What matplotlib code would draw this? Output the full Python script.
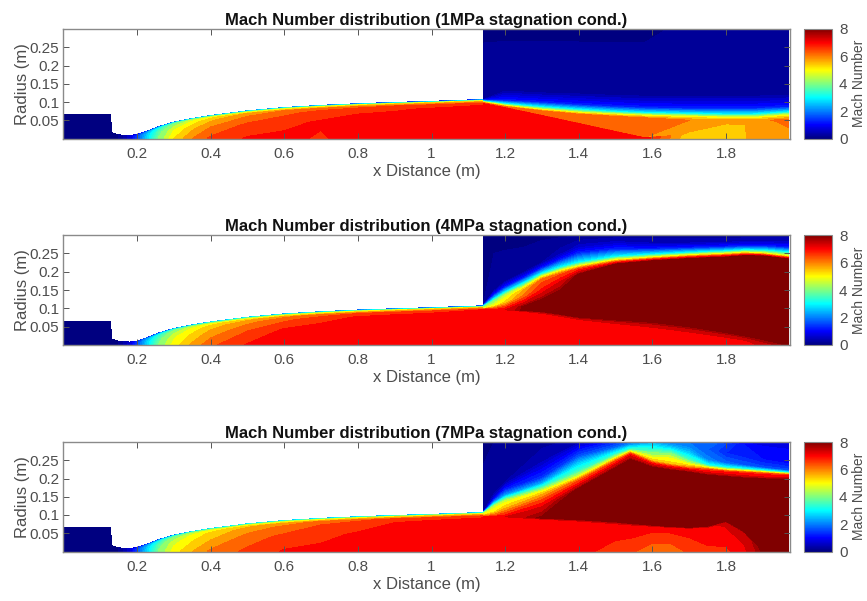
import numpy as np
import matplotlib
matplotlib.use('Agg')
import matplotlib.pyplot as plt
from matplotlib.cm import ScalarMappable
from matplotlib.colors import LinearSegmentedColormap, Normalize

plt.rcParams['font.family'] = ['Liberation Sans', 'DejaVu Sans']

titles = ['Mach Number distribution (1MPa stagnation cond.)',
          'Mach Number distribution (4MPa stagnation cond.)',
          'Mach Number distribution (7MPa stagnation cond.)']
x_ticks = [0.2, 0.4, 0.6, 0.8, 1.0, 1.2, 1.4, 1.6, 1.8]
x_tick_labels = ['0.2', '0.4', '0.6', '0.8', '1', '1.2', '1.4', '1.6', '1.8']
r_ticks = [0.05, 0.1, 0.15, 0.2, 0.25]
r_tick_labels = ['0.05', '0.1', '0.15', '0.2', '0.25']
cbar_ticks = [0, 2, 4, 6, 8]

# nozzle wall
noz_x = [0.0, 0.128, 0.131, 0.15, 0.18, 0.2, 0.23, 0.26, 0.3, 0.35, 0.4, 0.5, 0.6, 0.7, 0.8, 0.9, 1.0, 1.14]
noz_wall = [0.065, 0.065, 0.016, 0.010, 0.008, 0.011, 0.021, 0.033, 0.045, 0.055, 0.063, 0.076, 0.085, 0.091, 0.0955, 0.099, 0.102, 0.107]
noz_eta = [0.0, 0.5, 0.8, 0.9, 0.96, 1.0]

# Mach number in the nozzle, one row per eta
noz_m1 = [
    [0, 0, 0, 0.1, 0.6, 1.5, 2.8, 4.0, 5.2, 6.0, 6.5, 6.85, 6.9, 6.75, 7.0, 7.05, 7.05, 7.05],
    [0, 0, 0, 0.1, 0.6, 1.5, 2.7, 3.7, 4.8, 5.5, 6.0, 6.5, 6.7, 6.85, 7.0, 7.05, 7.1, 7.1],
    [0, 0, 0, 0.1, 0.6, 1.3, 2.3, 3.3, 4.2, 5.0, 5.5, 6.0, 6.3, 6.55, 6.7, 6.75, 6.85, 7.0],
    [0, 0, 0, 0.1, 0.6, 1.2, 2.0, 2.8, 3.8, 4.6, 5.1, 5.7, 6.0, 6.2, 6.3, 6.4, 6.5, 6.6],
    [0, 0, 0, 0.1, 0.5, 1.0, 1.6, 2.2, 3.0, 3.6, 4.0, 4.3, 4.6, 4.8, 5.0, 5.1, 5.2, 5.2],
    [0, 0, 0, 0.1, 0.4, 0.8, 1.0, 1.2, 1.5, 1.8, 2.0, 2.0, 2.0, 1.8, 1.5, 1.3, 1.2, 1.2],
]
noz_m2 = [
    [0, 0, 0, 0.1, 0.6, 1.5, 2.8, 4.0, 5.0, 5.7, 6.3, 6.85, 6.95, 7.0, 7.05, 7.05, 7.05, 7.05],
    [0, 0, 0, 0.1, 0.6, 1.5, 2.7, 3.7, 4.7, 5.3, 5.8, 6.4, 6.85, 7.0, 7.05, 7.1, 7.1, 7.1],
    [0, 0, 0, 0.1, 0.6, 1.3, 2.3, 3.3, 4.2, 4.9, 5.4, 5.9, 6.3, 6.6, 6.85, 6.95, 7.0, 7.1],
    [0, 0, 0, 0.1, 0.6, 1.2, 2.0, 2.8, 3.7, 4.5, 5.0, 5.5, 5.9, 6.2, 6.4, 6.5, 6.6, 6.8],
    [0, 0, 0, 0.1, 0.5, 1.0, 1.6, 2.2, 3.0, 3.5, 3.8, 4.2, 4.5, 4.7, 4.9, 5.0, 5.2, 5.3],
    [0, 0, 0, 0.1, 0.4, 0.8, 1.0, 1.2, 1.5, 2.0, 2.4, 2.4, 2.2, 2.0, 1.8, 1.6, 1.5, 1.5],
]
noz_m3 = [
    [0, 0, 0, 0.1, 0.6, 1.5, 2.8, 4.0, 5.0, 5.6, 6.1, 6.5, 6.85, 6.9, 6.95, 7.0, 7.0, 7.0],
    [0, 0, 0, 0.1, 0.6, 1.5, 2.7, 3.7, 4.7, 5.2, 5.6, 6.2, 6.5, 6.7, 6.85, 6.95, 7.0, 7.0],
    [0, 0, 0, 0.1, 0.6, 1.3, 2.3, 3.3, 4.2, 4.9, 5.3, 5.8, 6.1, 6.4, 6.6, 6.8, 6.9, 6.95],
    [0, 0, 0, 0.1, 0.6, 1.2, 2.0, 2.8, 3.7, 4.5, 5.0, 5.5, 5.8, 6.1, 6.3, 6.5, 6.6, 6.7],
    [0, 0, 0, 0.1, 0.5, 1.0, 1.6, 2.2, 3.0, 3.6, 4.0, 4.4, 4.6, 4.8, 5.0, 5.1, 5.2, 5.2],
    [0, 0, 0, 0.1, 0.4, 0.8, 1.0, 1.2, 1.6, 2.2, 2.6, 2.6, 2.6, 2.4, 2.4, 2.4, 2.4, 2.4],
]

# plume after the nozzle lip, rows go from the axis to the top of the plot
p1_x = [1.14, 1.2, 1.3, 1.4, 1.5, 1.58, 1.7, 1.8, 1.87, 1.97]
p1_r = [
    [0, 0, 0, 0, 0, 0, 0, 0, 0, 0],
    [0.093, 0.083, 0.062, 0.040, 0.018, 0.001, 0.012, 0.032, 0.040, 0.030],
    [0.095, 0.085, 0.064, 0.042, 0.020, 0.003, 0.020, 0.040, 0.048, 0.046],
    [0.097, 0.087, 0.075, 0.066, 0.060, 0.056, 0.050, 0.048, 0.048, 0.052],
    [0.100, 0.090, 0.079, 0.071, 0.066, 0.063, 0.060, 0.058, 0.057, 0.064],
    [0.103, 0.095, 0.086, 0.079, 0.073, 0.070, 0.068, 0.066, 0.066, 0.072],
    [0.106, 0.104, 0.099, 0.093, 0.088, 0.085, 0.083, 0.083, 0.083, 0.087],
    [0.107, 0.130, 0.125, 0.122, 0.118, 0.116, 0.116, 0.116, 0.116, 0.118],
    [0.300, 0.300, 0.300, 0.300, 0.300, 0.300, 0.300, 0.300, 0.300, 0.300],
]
p1_m = [
    [7.05, 7.05, 7.05, 7.05, 7.05, 7.0, 5.2, 5.2, 5.7, 5.9],
    [7.05, 7.05, 7.05, 7.05, 7.05, 7.0, 5.3, 5.3, 5.7, 6.0],
    [6.95, 6.4, 6.2, 6.2, 6.2, 6.0, 5.7, 5.6, 5.8, 6.1],
    [6.5, 6.1, 6.1, 6.1, 6.1, 6.1, 6.0, 5.9, 5.9, 6.1],
    [4.8, 4.9, 4.9, 4.9, 4.9, 4.9, 4.9, 4.9, 4.9, 4.9],
    [2.6, 3.0, 3.0, 3.0, 3.0, 3.0, 3.0, 3.0, 3.0, 3.0],
    [1.2, 1.2, 1.2, 1.2, 1.2, 1.2, 1.2, 1.2, 1.2, 1.2],
    [0.3, 0.3, 0.3, 0.3, 0.3, 0.3, 0.3, 0.3, 0.3, 0.3],
    [0.05, 0.05, 0.05, 0.05, 0.05, 0.05, 0.15, 0.15, 0.15, 0.15],
]

p2_x = [1.14, 1.17, 1.2, 1.25, 1.3, 1.35, 1.4, 1.5, 1.6, 1.7, 1.8, 1.85, 1.9, 1.97]
p2_r = [
    [0, 0, 0, 0, 0, 0, 0, 0, 0, 0, 0, 0, 0, 0],
    [0.094, 0.094, 0.094, 0.091, 0.085, 0.077, 0.068, 0.056, 0.045, 0.032, 0.018, 0.010, 0.002, 0.001],
    [0.096, 0.096, 0.096, 0.095, 0.092, 0.085, 0.077, 0.070, 0.064, 0.052, 0.036, 0.027, 0.018, 0.005],
    [0.098, 0.098, 0.099, 0.104, 0.122, 0.145, 0.172, 0.200, 0.212, 0.222, 0.228, 0.230, 0.228, 0.220],
    [0.100, 0.106, 0.116, 0.131, 0.150, 0.168, 0.192, 0.220, 0.229, 0.235, 0.239, 0.243, 0.242, 0.234],
    [0.103, 0.114, 0.128, 0.150, 0.178, 0.194, 0.208, 0.226, 0.234, 0.240, 0.244, 0.247, 0.246, 0.238],
    [0.105, 0.120, 0.136, 0.158, 0.186, 0.202, 0.215, 0.232, 0.239, 0.245, 0.249, 0.252, 0.250, 0.242],
    [0.107, 0.128, 0.145, 0.168, 0.195, 0.212, 0.225, 0.241, 0.247, 0.252, 0.256, 0.259, 0.258, 0.253],
    [0.108, 0.138, 0.158, 0.183, 0.210, 0.232, 0.252, 0.262, 0.262, 0.265, 0.268, 0.270, 0.270, 0.266],
    [0.109, 0.150, 0.175, 0.200, 0.225, 0.250, 0.268, 0.282, 0.280, 0.280, 0.282, 0.284, 0.284, 0.282],
    [0.300, 0.300, 0.300, 0.300, 0.300, 0.300, 0.300, 0.300, 0.300, 0.300, 0.300, 0.300, 0.300, 0.300],
]
p2_m = [
    [7.05, 7.05, 7.05, 7.05, 7.05, 7.05, 7.05, 7.05, 7.05, 7.05, 7.05, 7.05, 7.3, 7.9],
    [7.05, 7.05, 7.05, 7.05, 7.05, 7.05, 7.05, 7.05, 7.05, 7.05, 7.05, 7.05, 7.4, 7.9],
    [7.1, 7.1, 7.2, 7.9, 7.9, 7.9, 7.9, 7.9, 7.9, 7.9, 7.9, 7.9, 7.9, 7.9],
    [6.4, 6.6, 7.0, 7.9, 7.9, 7.9, 7.9, 7.9, 7.9, 7.9, 7.9, 7.9, 7.9, 7.9],
    [4.8, 5.0, 5.3, 6.2, 6.9, 7.4, 7.9, 7.9, 7.9, 7.9, 7.9, 7.9, 7.9, 7.9],
    [4.0, 4.4, 4.9, 5.6, 6.2, 6.3, 6.5, 6.6, 6.6, 6.6, 6.6, 6.6, 6.6, 6.6],
    [3.2, 4.0, 4.4, 4.8, 5.0, 5.0, 5.0, 5.0, 5.0, 5.0, 5.0, 5.0, 5.0, 5.0],
    [1.8, 2.5, 2.8, 3.0, 3.0, 3.0, 3.0, 3.0, 3.0, 3.0, 3.0, 3.0, 3.0, 3.0],
    [0.8, 1.1, 1.2, 1.2, 1.2, 1.2, 1.2, 1.2, 1.2, 1.2, 1.2, 1.2, 1.2, 1.2],
    [0.1, 0.2, 0.2, 0.2, 0.3, 0.4, 0.6, 0.5, 0.4, 0.4, 0.4, 0.4, 0.4, 0.5],
    [0.05, 0.05, 0.05, 0.05, 0.05, 0.05, 0.05, 0.15, 0.2, 0.2, 0.2, 0.2, 0.2, 0.2],
]

p3_x = [1.14, 1.17, 1.2, 1.3, 1.4, 1.5, 1.54, 1.6, 1.65, 1.7, 1.75, 1.8, 1.85, 1.9, 1.97]
p3_r = [
    [0, 0, 0, 0, 0, 0, 0, 0, 0, 0, 0, 0, 0, 0, 0],
    [0.092, 0.092, 0.092, 0.088, 0.083, 0.075, 0.072, 0.068, 0.065, 0.063, 0.066, 0.080, 0.050, 0.002, 0.001],
    [0.095, 0.095, 0.095, 0.092, 0.088, 0.082, 0.078, 0.073, 0.069, 0.067, 0.070, 0.084, 0.056, 0.010, 0.004],
    [0.097, 0.098, 0.100, 0.118, 0.172, 0.228, 0.250, 0.230, 0.222, 0.216, 0.208, 0.204, 0.200, 0.198, 0.196],
    [0.100, 0.108, 0.118, 0.142, 0.186, 0.240, 0.262, 0.240, 0.232, 0.225, 0.218, 0.214, 0.210, 0.206, 0.204],
    [0.104, 0.118, 0.130, 0.156, 0.196, 0.248, 0.268, 0.248, 0.240, 0.230, 0.224, 0.219, 0.216, 0.213, 0.209],
    [0.106, 0.124, 0.138, 0.164, 0.204, 0.256, 0.274, 0.258, 0.256, 0.238, 0.230, 0.224, 0.221, 0.218, 0.213],
    [0.107, 0.130, 0.146, 0.175, 0.218, 0.266, 0.280, 0.272, 0.270, 0.250, 0.236, 0.230, 0.226, 0.222, 0.216],
    [0.108, 0.136, 0.154, 0.186, 0.242, 0.276, 0.287, 0.286, 0.282, 0.270, 0.252, 0.242, 0.236, 0.230, 0.222],
    [0.109, 0.146, 0.170, 0.202, 0.262, 0.285, 0.292, 0.294, 0.292, 0.288, 0.280, 0.270, 0.262, 0.252, 0.240],
    [0.110, 0.160, 0.190, 0.245, 0.285, 0.296, 0.298, 0.299, 0.298, 0.298, 0.296, 0.294, 0.292, 0.288, 0.280],
    [0.300, 0.300, 0.300, 0.300, 0.300, 0.300, 0.300, 0.300, 0.300, 0.300, 0.300, 0.300, 0.300, 0.300, 0.300],
]
p3_m = [
    [7.0, 7.0, 7.0, 7.0, 6.95, 6.6, 6.5, 6.1, 6.1, 6.5, 6.7, 6.7, 7.1, 7.9, 7.9],
    [7.05, 7.05, 7.05, 7.1, 7.15, 7.1, 7.1, 7.0, 7.0, 7.0, 7.1, 7.3, 7.4, 7.9, 7.9],
    [7.0, 7.1, 7.2, 7.9, 7.9, 7.9, 7.9, 7.9, 7.9, 7.9, 7.9, 7.9, 7.9, 7.9, 7.9],
    [6.2, 6.4, 6.8, 7.4, 7.9, 7.9, 7.9, 7.9, 7.9, 7.9, 7.9, 7.9, 7.9, 7.9, 7.9],
    [5.0, 5.2, 5.6, 6.4, 6.9, 7.1, 7.2, 7.0, 6.9, 7.0, 7.0, 7.0, 7.0, 7.0, 7.0],
    [4.4, 4.8, 5.0, 5.6, 6.2, 6.4, 6.6, 5.6, 5.4, 6.0, 6.6, 6.7, 6.7, 6.7, 6.7],
    [3.6, 4.4, 4.6, 5.0, 5.0, 5.0, 5.0, 4.8, 4.8, 5.0, 5.0, 5.0, 5.0, 5.0, 5.0],
    [2.2, 3.2, 3.4, 3.6, 3.6, 3.4, 3.4, 3.8, 3.8, 3.6, 3.2, 3.2, 3.2, 3.2, 3.2],
    [1.0, 2.0, 2.2, 2.4, 2.6, 2.6, 2.8, 3.0, 2.8, 2.6, 2.0, 1.8, 1.7, 1.6, 1.6],
    [0.4, 0.8, 1.2, 1.4, 1.6, 1.8, 2.2, 2.6, 2.2, 2.0, 1.7, 1.3, 1.2, 1.1, 1.1],
    [0.2, 0.3, 0.3, 0.5, 0.9, 1.4, 1.9, 2.4, 1.9, 1.9, 1.9, 1.5, 1.1, 0.9, 0.9],
    [0.05, 0.1, 0.1, 0.2, 0.4, 1.2, 1.6, 2.2, 1.8, 1.6, 1.4, 1.1, 0.9, 0.9, 0.9],
]

noz_tables = [noz_m1, noz_m2, noz_m3]
plume_x = [p1_x, p2_x, p3_x]
plume_r = [p1_r, p2_r, p3_r]
plume_m = [p1_m, p2_m, p3_m]

# fine bands in the blue part, coarser where the picture shows visible bands
levels = np.concatenate([np.arange(-0.1, 4.0, 0.2), [4.4, 4.8, 5.2, 5.6, 6.0, 6.4, 6.8, 7.2, 7.6, 7.8, 8.2]])
jet_matlab = LinearSegmentedColormap.from_list('jet_matlab', [
    (0.0, (0, 0, 0.5)), (0.125, (0, 0, 1)), (0.375, (0, 1, 1)),
    (0.625, (1, 1, 0)), (0.875, (1, 0, 0)), (1.0, (0.5, 0, 0))], N=256)
TEXT_GREY = '#4d4d4d'
EDGE_GREY = '#8a8a8a'
W, H = 867.0, 601.0
# panel tops and bottoms in image pixels
panel_y = [(29, 138.5), (235, 345), (442, 551.5)]


def draw_panel(fig, i):
    top, bottom = panel_y[i]
    ax = fig.add_axes([63.4 / W, 1 - bottom / H, (789.7 - 63.4) / W, (bottom - top) / H])

    # nozzle, layers scale with the wall radius
    nx = np.array(noz_x)
    wall = np.array(noz_wall)
    X = np.tile(nx, (len(noz_eta), 1))
    R = np.outer(noz_eta, wall)
    ax.contourf(X, R, np.array(noz_tables[i]), levels=levels, cmap=jet_matlab, vmin=0, vmax=8)

    # plume behind the lip
    r_rows = np.array(plume_r[i], dtype=float)
    X2 = np.tile(np.array(plume_x[i]), (r_rows.shape[0], 1))
    ax.contourf(X2, r_rows, np.array(plume_m[i]), levels=levels, cmap=jet_matlab, vmin=0, vmax=8)

    ax.set_xlim(0, 1.973)
    ax.set_ylim(0, 0.3)
    ax.set_xticks(x_ticks)
    ax.set_xticklabels(x_tick_labels)
    ax.set_yticks(r_ticks)
    ax.set_yticklabels(r_tick_labels)
    ax.tick_params(direction='in', top=True, right=True, length=4, width=0.7,
                   color='#555555', labelcolor=TEXT_GREY, labelsize=11)
    ax.tick_params(axis='x', pad=6)
    ax.tick_params(axis='y', pad=3)
    for s in ax.spines.values():
        s.set_color(EDGE_GREY)
        s.set_linewidth(1.0)
    ax.set_xlabel('x Distance (m)', fontsize=12, color=TEXT_GREY, labelpad=2)
    ax.set_ylabel('Radius (m)', fontsize=12, color=TEXT_GREY, labelpad=0)
    ax.set_title(titles[i], fontsize=11.95, fontweight='bold', color='#111111', pad=3)

    cax = fig.add_axes([803.7 / W, 1 - bottom / H, (832 - 803.7) / W, (bottom - top) / H])
    cb = fig.colorbar(ScalarMappable(Normalize(0, 8), jet_matlab), cax=cax)
    cb.set_ticks(cbar_ticks)
    cb.ax.tick_params(length=0, labelcolor=TEXT_GREY, labelsize=11, pad=5)
    cb.set_label('Mach Number', fontsize=10, color=TEXT_GREY, labelpad=3)
    cb.outline.set_edgecolor(EDGE_GREY)
    return ax


fig = plt.figure(figsize=(8.67, 6.01), dpi=100)
for i in range(3):
    draw_panel(fig, i)
fig.savefig('out.png', dpi=100, facecolor='white')
plt.close(fig)
